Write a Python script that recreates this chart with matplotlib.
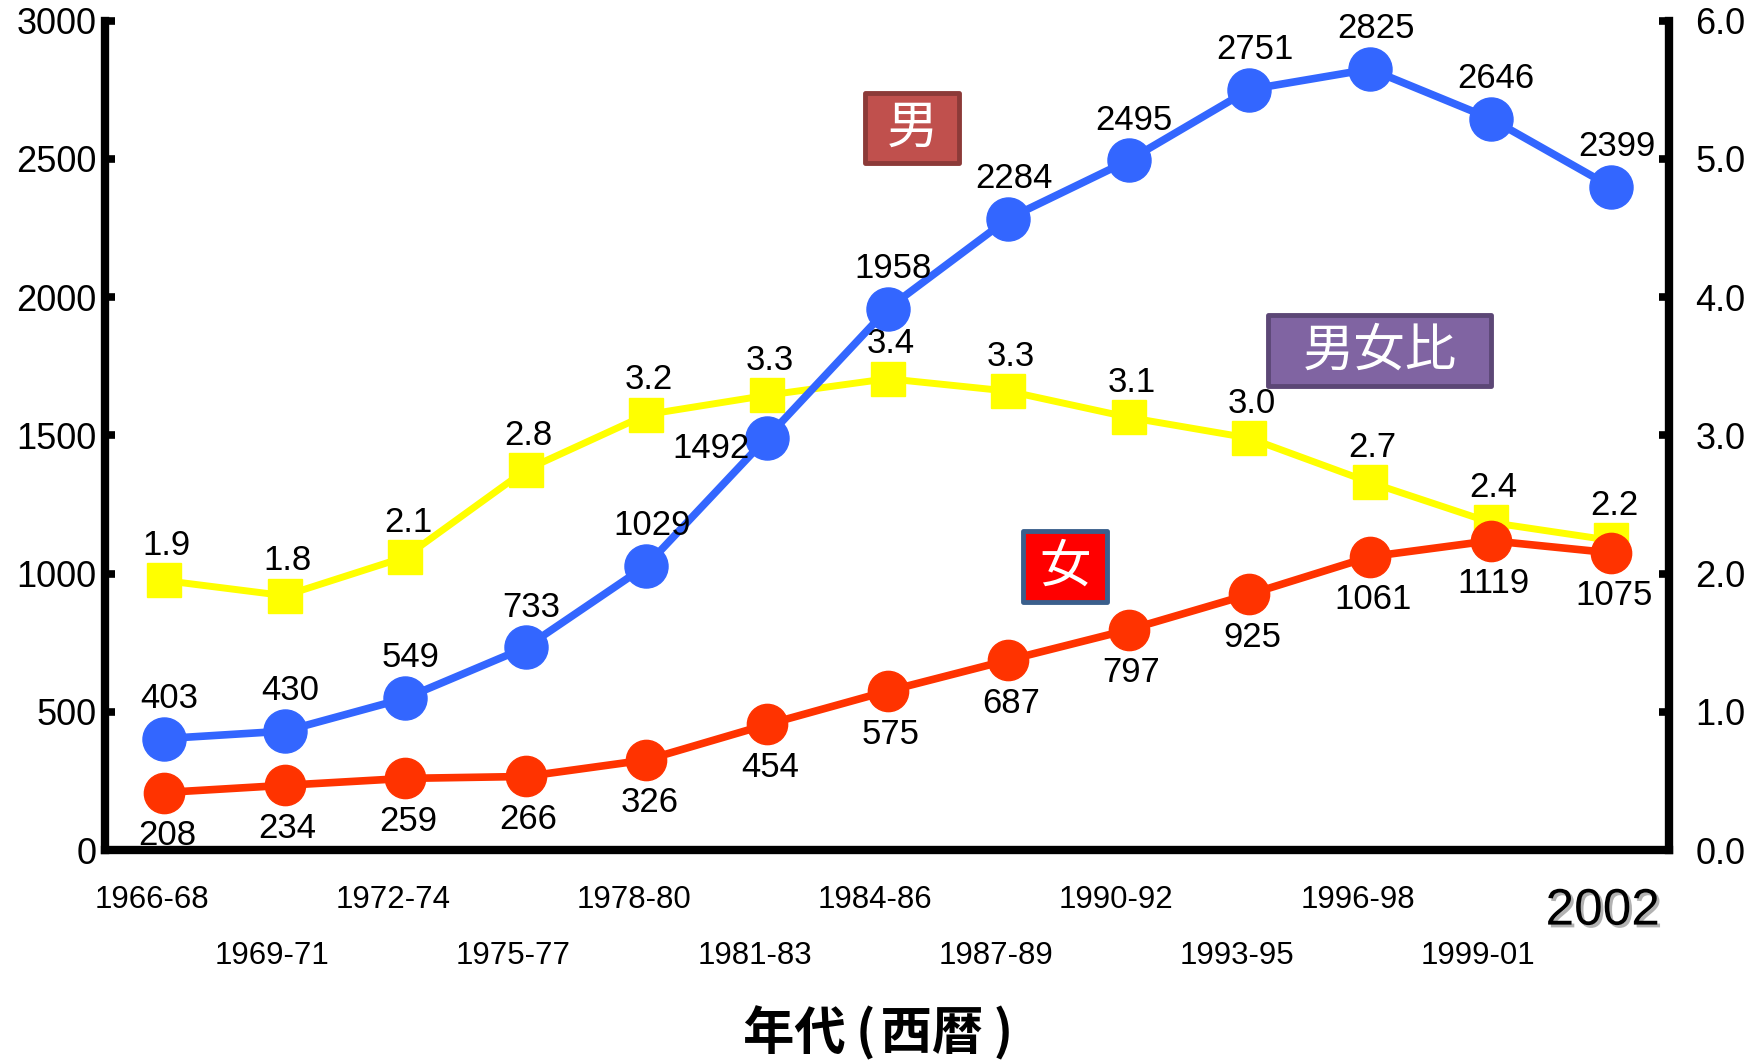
import matplotlib
matplotlib.use("Agg")
import matplotlib.pyplot as plt
from matplotlib.patches import Rectangle
import matplotlib.patheffects as pe
from matplotlib.ticker import FormatStrFormatter

plt.rcParams['font.family'] = ['Liberation Sans', 'Noto Sans CJK JP', 'DejaVu Sans']

# ---------------- data ----------------
periods = ["1966-68", "1969-71", "1972-74", "1975-77", "1978-80", "1981-83",
           "1984-86", "1987-89", "1990-92", "1993-95", "1996-98", "1999-01", "2002"]
men = [403, 430, 549, 733, 1029, 1492, 1958, 2284, 2495, 2751, 2825, 2646, 2399]
women = [208, 234, 259, 266, 326, 454, 575, 687, 797, 925, 1061, 1119, 1075]
ratio = [1.95, 1.84, 2.12, 2.75, 3.15, 3.29, 3.41, 3.32, 3.13, 2.98, 2.66, 2.37, 2.24]
ratio_labels = ["1.9", "1.8", "2.1", "2.8", "3.2", "3.3", "3.4", "3.3", "3.1",
                "3.0", "2.7", "2.4", "2.2"]
left_ticks = [0, 500, 1000, 1500, 2000, 2500, 3000]
right_ticks = [0.0, 1.0, 2.0, 3.0, 4.0, 5.0, 6.0]
xlabel = "年代\u2009(\u200a西暦\u2009)"
label_men, label_women, label_ratio = "男", "女", "男女比"

W, H = 1754, 1061
fig = plt.figure(figsize=(W / 100, H / 100), dpi=100)

def fx(px):
    return px / W

def fy(py):
    return 1 - py / H

ax_left, ax_right, ax_top, ax_bot = 105, 1669, 20.7, 850
ax = fig.add_axes([fx(ax_left), fy(ax_bot), fx(ax_right - ax_left), (ax_bot - ax_top) / H])
ax2 = ax.twinx()
ax.set_zorder(ax2.get_zorder() + 1)
ax.patch.set_visible(False)

x = list(range(len(periods)))

blue = "#3366FF"
red = "#FF3300"
yellow = "#FFFF00"

# ratio (secondary axis, drawn beneath)
ax2.plot(x, ratio, color=yellow, lw=5, marker="s", ms=24, mec=yellow, mfc=yellow,
         solid_joinstyle="round")
ax.plot(x, women, color=red, lw=5.5, marker="o", ms=29, mec=red, mfc=red)
ax.plot(x, men, color=blue, lw=5.5, marker="o", ms=31, mec=blue, mfc=blue)

lab_fs = 25
for i, v in enumerate(men):
    if v == 1492:
        off = (-40, -8)
    else:
        off = (4, 29)
    ax.annotate(str(v), (i, v), xytext=off, textcoords="offset points",
                ha="center", va="center", fontsize=lab_fs, zorder=10)
for i, v in enumerate(women):
    ax.annotate(str(v), (i, v), xytext=(2, -31), textcoords="offset points",
                ha="center", va="center", fontsize=lab_fs, zorder=10)
for i, v in enumerate(ratio):
    ax2.annotate(ratio_labels[i], (i, v), xytext=(2, 25), textcoords="offset points",
                 ha="center", va="center", fontsize=lab_fs, zorder=10)

# axes styling
ax.set_xlim(-0.49, 12.48)
ax.set_ylim(0, 3000)
ax2.set_ylim(0, 6)
ax.set_yticks(left_ticks)
ax2.set_yticks(right_ticks)
ax2.yaxis.set_major_formatter(FormatStrFormatter("%.1f"))

for s in ["top", "right"]:
    ax.spines[s].set_visible(False)
for s in ["top", "left", "bottom"]:
    ax2.spines[s].set_visible(False)
for s in ["left", "bottom"]:
    ax.spines[s].set_linewidth(6)
ax2.spines["right"].set_linewidth(6)

ax.tick_params(axis="y", direction="in", length=7, width=5.5, labelsize=26, pad=6)
ax2.tick_params(axis="y", direction="in", length=7, width=5.5, labelsize=26, pad=19)

# staggered category labels
ax.set_xticks(x)
ax.tick_params(axis="x", length=0, labelbottom=False)
for i, lab in enumerate(periods):
    if i == len(periods) - 1:
        t = ax.annotate(lab, (i, 0), xycoords=("data", "axes fraction"), xytext=(-6, -44),
                        textcoords="offset points", ha="center", va="center", fontsize=37,
                        annotation_clip=False)
        t.set_path_effects([pe.SimplePatchShadow(offset=(2, -2), shadow_rgbFace="gray", alpha=0.6),
                            pe.Normal()])
    else:
        dy = -36 if i % 2 == 0 else -76
        ax.annotate(lab, (i, 0), xycoords=("data", "axes fraction"), xytext=(-9, dy),
                    textcoords="offset points", ha="center", va="center", fontsize=22.5,
                    annotation_clip=False)

fig.text(fx(878), fy(1033), xlabel, ha="center", va="center", fontsize=37,
         fontweight="bold", family=["Noto Sans CJK JP", "DejaVu Sans"])

# label boxes
boxes = [
    (label_men, 865, 93, 959, 163, "#C0504D", "#8C3A38"),
    (label_ratio, 1268, 315, 1491, 386, "#8064A2", "#5C4776"),
    (label_women, 1023, 531, 1107, 602, "#FF0000", "#3A5F8C"),
]
for txt, x0, y0, x1, y1, fc, ec in boxes:
    r = Rectangle((fx(x0), fy(y1)), fx(x1 - x0), (y1 - y0) / H, transform=fig.transFigure,
                  facecolor=fc, edgecolor=ec, linewidth=3.5, joinstyle="round", zorder=20)
    fig.patches.append(r)
    fig.text(fx((x0 + x1) / 2), fy((y0 + y1) / 2), txt, ha="center", va="center",
             fontsize=37, color="white", family=["Noto Sans CJK JP", "DejaVu Sans"], zorder=21)

fig.savefig("out.png", dpi=100)
